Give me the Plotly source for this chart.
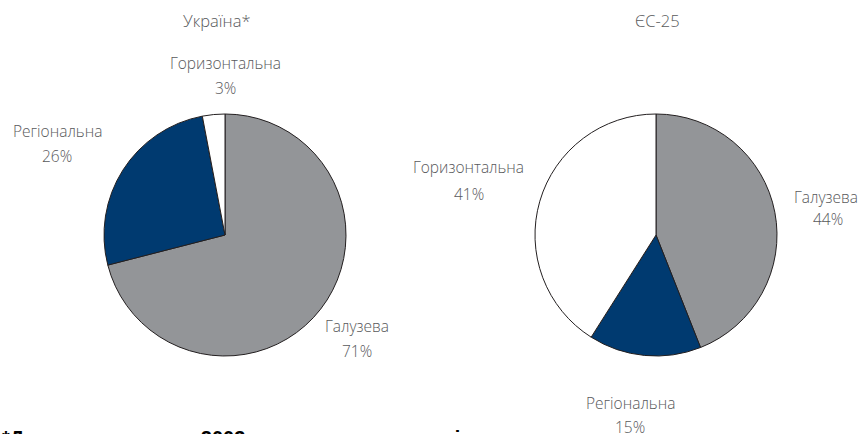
import plotly.graph_objects as go

W, H = 861, 434

categories = ["Галузева", "Регіональна", "Горизонтальна"]
ukraine_values = [71, 26, 3]
eu_values = [44, 15, 41]
titles = ["Україна*", "ЄС-25"]
colors = ["#939598", "#003a70", "#ffffff"]
footnote = "*Дата опитування – 2003 р., за сумами видатків"

def px(x):
    return x / W

def py(y):
    return 1 - y / H

def dom(cx, cy, r):
    return dict(x=[px(cx - r), px(cx + r)], y=[py(cy + r), py(cy - r)])

fig = go.Figure()
for vals, (cx, cy) in [(ukraine_values, (225, 235)), (eu_values, (656, 235))]:
    fig.add_trace(go.Pie(
        labels=categories, values=vals, sort=False, direction="clockwise",
        rotation=0, textinfo="none", hoverinfo="label+percent",
        marker=dict(colors=colors, line=dict(color="#231f20", width=1)),
        domain=dom(cx, cy, 121), showlegend=False,
    ))

lab_font = dict(family="Open Sans, sans-serif", size=15.5, color="#58595b", weight=300)
ann = []
# titles
for t, cx in zip(titles, [216, 657]):
    ann.append(dict(text=t, x=px(cx), y=py(20), xref="paper", yref="paper",
                    showarrow=False, xanchor="center", yanchor="middle",
                    font=dict(family="Open Sans, sans-serif", size=16.5, color="#58595b", weight=300)))

# label positions (name center, pct center)
pos_uk = {"Галузева": ((357, 326), (357, 351)),
          "Регіональна": ((57, 131), (57, 156)),
          "Горизонтальна": ((225, 63), (225, 88))}
pos_eu = {"Галузева": ((826, 197), (828, 219)),
          "Регіональна": ((630, 403), (630, 427)),
          "Горизонтальна": ((469, 167), (469, 194))}
for vals, pos in [(ukraine_values, pos_uk), (eu_values, pos_eu)]:
    for c, v in zip(categories, vals):
        (nx, ny), (qx, qy) = pos[c]
        ann.append(dict(text=c, x=px(nx), y=py(ny), xref="paper", yref="paper",
                        showarrow=False, xanchor="center", yanchor="middle", font=lab_font))
        ann.append(dict(text=f"{v}%", x=px(qx), y=py(qy), xref="paper", yref="paper",
                        showarrow=False, xanchor="center", yanchor="middle", font=lab_font))

ann.append(dict(text="<b>" + footnote + "</b>", x=0, y=py(424.5), xref="paper", yref="paper",
                showarrow=False, xanchor="left", yanchor="top",
                font=dict(family="Liberation Sans, Arial, sans-serif", size=20, color="#000000")))

fig.update_layout(
    width=W, height=H, margin=dict(l=0, r=0, t=0, b=0),
    paper_bgcolor="white", plot_bgcolor="white", annotations=ann,
)
fig.write_html("out.html", config={"displayModeBar": False},
               post_script="document.body.style.margin='0';document.body.style.padding='0';document.body.style.overflow='hidden';")
